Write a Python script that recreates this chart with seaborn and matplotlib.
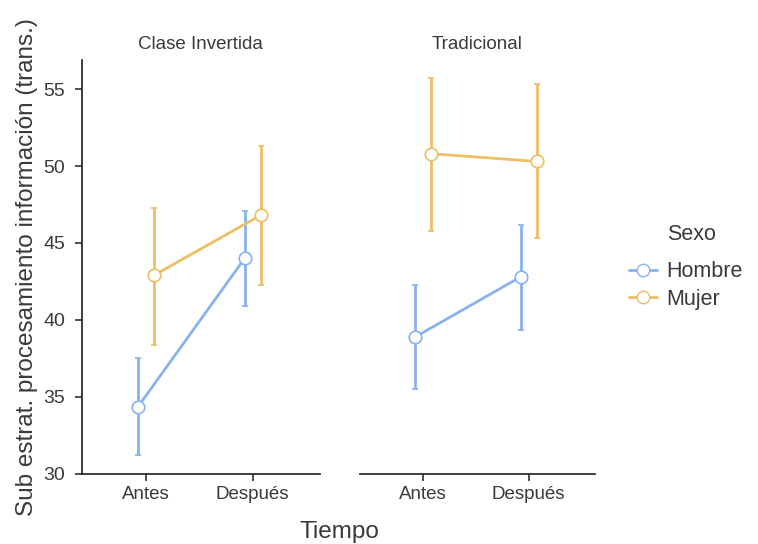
import numpy as np
import pandas as pd
import matplotlib
matplotlib.use("Agg")
import matplotlib.pyplot as plt
import seaborn as sns
from matplotlib.lines import Line2D

# --- datos ---
grupos = ["Clase Invertida", "Tradicional"]
tiempos = ["Antes", "Después"]
sexos = ["Hombre", "Mujer"]

media_hombre = {"Clase Invertida": [34.35, 44.0], "Tradicional": [38.9, 42.8]}
inf_hombre = {"Clase Invertida": [31.2, 40.9], "Tradicional": [35.5, 39.35]}
sup_hombre = {"Clase Invertida": [37.5, 47.1], "Tradicional": [42.3, 46.2]}

media_mujer = {"Clase Invertida": [42.9, 46.8], "Tradicional": [50.8, 50.3]}
inf_mujer = {"Clase Invertida": [38.4, 42.3], "Tradicional": [45.8, 45.3]}
sup_mujer = {"Clase Invertida": [47.3, 51.3], "Tradicional": [55.7, 55.3]}

colores = {"Hombre": "#88b2ee", "Mujer": "#ebbf63"}
gris = "#3a3a3a"

sns.set_theme(style="ticks")
plt.rcParams['font.family'] = ['Liberation Sans', 'DejaVu Sans']

fig = plt.figure(figsize=(7.58, 5.44), dpi=100)
ax1 = fig.add_axes([0.108, 0.129, 0.314, 0.761])
ax2 = fig.add_axes([0.475, 0.129, 0.310, 0.761], sharey=ax1)

datos = {
    "Hombre": (media_hombre, inf_hombre, sup_hombre),
    "Mujer": (media_mujer, inf_mujer, sup_mujer),
}
desplaz = {"Hombre": -0.075, "Mujer": 0.075}

for ax, g in zip([ax1, ax2], grupos):
    for s in sexos:
        m, lo, hi = datos[s]
        x = np.arange(len(tiempos)) + desplaz[s]
        y = np.array(m[g])
        err = [y - np.array(lo[g]), np.array(hi[g]) - y]
        ax.errorbar(x, y, yerr=err, color=colores[s], lw=2, capsize=2.5,
                    capthick=1.5, marker="o", markersize=9,
                    markerfacecolor="white", markeredgecolor=colores[s],
                    markeredgewidth=1.2, zorder=3)
    ax.set_xticks(range(len(tiempos)))
    ax.set_xticklabels(tiempos, fontsize=13.5, color=gris)
    ax.set_xlim(-0.6, 1.63)
    ax.set_title(g, fontsize=13.5, color=gris, pad=8)
    ax.tick_params(axis="both", colors=gris, length=5, pad=4)

ax1.set_ylim(30, 56.9)
ax1.set_yticks([30, 35, 40, 45, 50, 55])
ax1.tick_params(axis="y", labelsize=14, pad=7)
ax1.set_ylabel("Sub estrat. procesamiento información (trans.)", fontsize=17.5,
               color=gris, labelpad=4)
sns.despine(ax=ax1)
sns.despine(ax=ax2, left=True)
ax2.tick_params(axis="y", left=False, labelleft=False)

fig.text(339 / 758, 1 - 532 / 544, "Tiempo", ha="center", va="center",
         fontsize=17.5, color=gris)

# leyenda al estilo ggplot: título alineado con el texto
manejadores = [Line2D([0], [0], color=colores[s], lw=2, marker="o",
                      markersize=9, markerfacecolor="white",
                      markeredgecolor=colores[s]) for s in sexos]
leg = fig.legend(manejadores, sexos, loc="center left",
                 bbox_to_anchor=(0.804, 0.475), frameon=False, fontsize=15.5,
                 handlelength=1.3, handletextpad=0.45, labelspacing=0.3)
for t in leg.get_texts():
    t.set_color(gris)
fig.text(667 / 758, 1 - 235 / 544, "Sexo", ha="left", va="center",
         fontsize=15.5, color=gris)

fig.savefig("out.png", dpi=100)
